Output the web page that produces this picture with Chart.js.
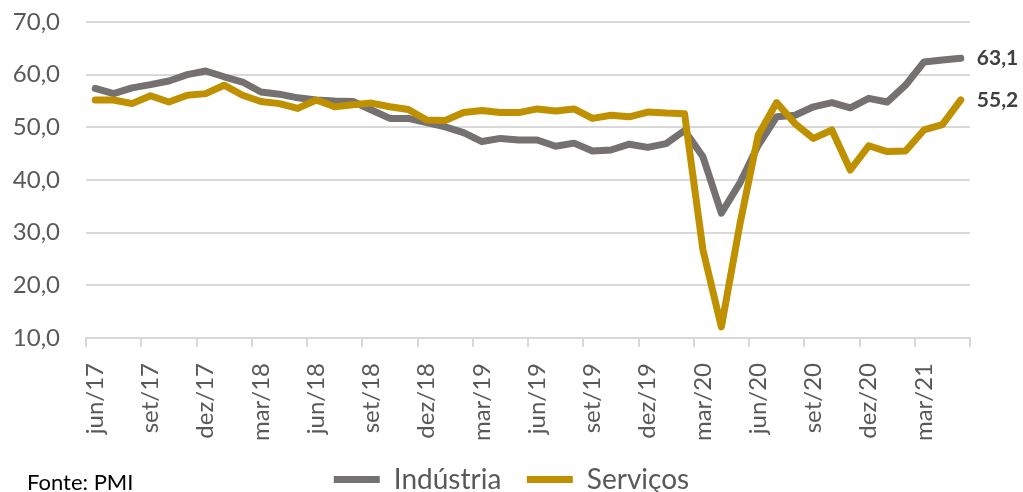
<!DOCTYPE html>
<html>
<head>
<meta charset="utf-8">
<script src="https://cdn.jsdelivr.net/npm/chart.js@4.4.0/dist/chart.umd.min.js"></script>
<style>
  body { margin: 0; background: #fff; }
  #wrap { position: relative; width: 1023px; height: 492px; }
  #fonte { position: absolute; left: 27px; top: 468px; font: 22px Lato, sans-serif; color: #000; }
</style>
</head>
<body>
<div id="wrap">
  <canvas id="chart"></canvas>
  <div id="fonte">Fonte: PMI</div>
</div>
<script>
const months = [
  'jun/17','jul/17','ago/17','set/17','out/17','nov/17','dez/17','jan/18','fev/18','mar/18','abr/18','mai/18',
  'jun/18','jul/18','ago/18','set/18','out/18','nov/18','dez/18','jan/19','fev/19','mar/19','abr/19','mai/19',
  'jun/19','jul/19','ago/19','set/19','out/19','nov/19','dez/19','jan/20','fev/20','mar/20','abr/20','mai/20',
  'jun/20','jul/20','ago/20','set/20','out/20','nov/20','dez/20','jan/21','fev/21','mar/21','abr/21','mai/21'
];
const industria = [
  57.4, 56.4, 57.5, 58.1, 58.8, 60.0, 60.7, 59.6, 58.6, 56.7, 56.3, 55.6,
  55.2, 55.0, 54.9, 53.3, 51.7, 51.7, 50.9, 50.1, 49.0, 47.3, 47.9, 47.6,
  47.6, 46.4, 47.0, 45.5, 45.7, 46.8, 46.2, 46.9, 49.4, 44.4, 33.7, 39.4,
  46.6, 52.0, 52.3, 53.9, 54.7, 53.7, 55.5, 54.8, 58.0, 62.4, 62.8, 63.1
];
const servicos = [
  55.2, 55.2, 54.5, 56.0, 54.8, 56.1, 56.4, 58.0, 56.1, 54.9, 54.5, 53.6,
  55.2, 53.9, 54.3, 54.6, 53.9, 53.4, 51.4, 51.3, 52.8, 53.2, 52.8, 52.8,
  53.5, 53.1, 53.5, 51.7, 52.3, 52.0, 52.9, 52.7, 52.6, 26.7, 12.1, 31.5,
  48.5, 54.7, 50.7, 47.9, 49.5, 41.9, 46.5, 45.4, 45.5, 49.5, 50.5, 55.2
];
const yMin = 10, yMax = 70, yStep = 10;

const fmt = v => v.toFixed(1).replace('.', ',');

// value label at the end of each line
const endLabels = {
  id: 'endLabels',
  afterDatasetsDraw(chart) {
    const ctx = chart.ctx;
    ctx.save();
    ctx.font = 'bold 21px Lato';
    ctx.fillStyle = '#404040';
    ctx.textBaseline = 'middle';
    chart.data.datasets.forEach((ds, i) => {
      const meta = chart.getDatasetMeta(i);
      const pt = meta.data[meta.data.length - 1];
      ctx.fillText(fmt(ds.data[ds.data.length - 1]), pt.x + 16, pt.y);
    });
    ctx.restore();
  }
};

new Chart(document.getElementById('chart'), {
  type: 'line',
  data: {
    labels: months,
    datasets: [
      {
        label: 'Indústria',
        data: industria,
        borderColor: '#767171',
        backgroundColor: '#767171',
        borderWidth: 7,
        borderCapStyle: 'round',
        borderJoinStyle: 'round',
        pointRadius: 0,
        pointStyle: 'line',
        tension: 0,
        order: 2
      },
      {
        label: 'Serviços',
        data: servicos,
        borderColor: '#BF9000',
        backgroundColor: '#BF9000',
        borderWidth: 7,
        borderCapStyle: 'round',
        borderJoinStyle: 'round',
        pointRadius: 0,
        pointStyle: 'line',
        tension: 0,
        order: 1
      }
    ]
  },
  options: {
    responsive: true,
    maintainAspectRatio: false,
    animation: false,
    layout: { padding: { left: 0, right: 0, top: 22, bottom: 0 } },
    plugins: {
      legend: {
        position: 'bottom',
        maxHeight: 52,
        labels: {
          usePointStyle: true,
          pointStyleWidth: 46,
          boxHeight: 8,
          padding: 25.5,
          color: '#595959',
          font: { family: 'Lato', size: 28 },
          sort: (a, b) => a.datasetIndex - b.datasetIndex
        }
      },
      tooltip: { enabled: false }
    },
    scales: {
      x: {
        offset: true,
        grid: {
          offset: true,
          drawOnChartArea: false,
          drawTicks: true,
          tickLength: 9,
          tickColor: c => (c.index === undefined || c.index % 3 === 0) ? '#d9d9d9' : 'rgba(0,0,0,0)',
          lineWidth: 2
        },
        border: { color: '#d9d9d9', width: 2 },
        ticks: {
          autoSkip: false,
          minRotation: 90,
          maxRotation: 90,
          padding: 16,
          color: '#595959',
          font: { family: 'Lato', size: 24 },
          callback: function (val, i) { return i % 3 === 0 ? this.getLabelForValue(val) : ''; }
        },
        afterFit: s => { s.height = 102; }
      },
      y: {
        min: yMin,
        max: yMax,
        ticks: {
          stepSize: yStep,
          padding: 0,
          color: '#595959',
          font: { family: 'Lato', size: 24 },
          callback: v => fmt(v)
        },
        grid: { color: '#d9d9d9', lineWidth: 2, drawTicks: true, tickLength: 26, tickColor: 'rgba(0,0,0,0)' },
        border: { display: false },
        afterFit: s => { s.width = 86; }
      },
      // empty right axis, keeps room for the end labels
      yRight: {
        position: 'right',
        min: yMin,
        max: yMax,
        grid: { display: false, drawTicks: false },
        ticks: { display: false },
        border: { display: false },
        afterFit: s => { s.width = 53; }
      }
    }
  },
  plugins: [endLabels]
});
</script>
</body>
</html>
